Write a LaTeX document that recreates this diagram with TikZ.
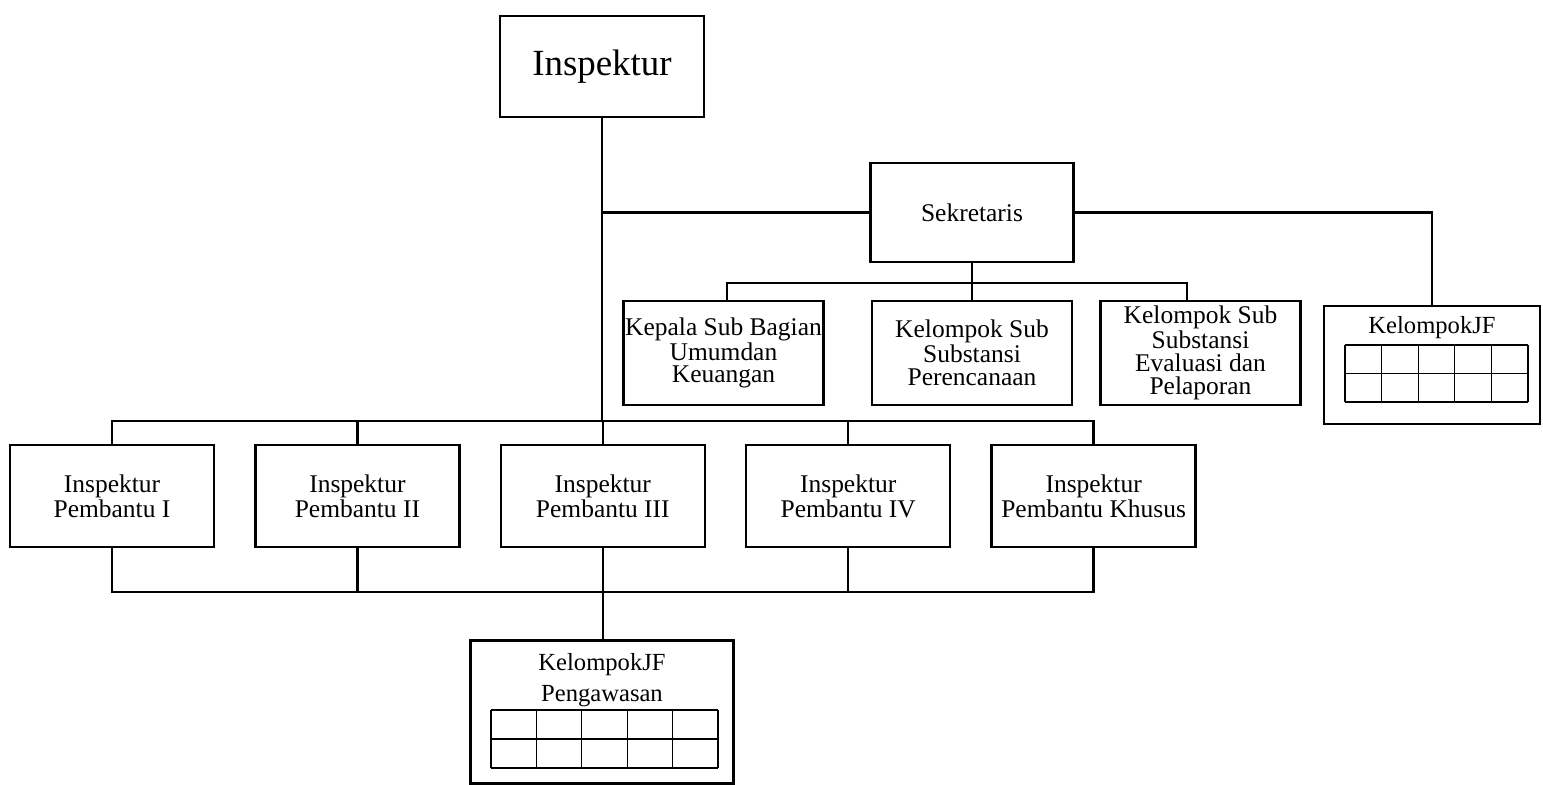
\documentclass[tikz,border=0pt]{standalone}
\usepackage{fontspec}
\setmainfont{Liberation Serif}
\usetikzlibrary{positioning}

\begin{document}
\begin{tikzpicture}[x=0.02cm,y=-0.02cm,
  box/.style={draw,line width=1.4pt,align=center,inner sep=1pt,minimum width=4.08cm,minimum height=2.04cm,font=\fontsize{14.5}{13}\selectfont},
  sub/.style={box,minimum width=4.0cm,minimum height=2.08cm},
  jfbox/.style={draw,line width=1.4pt,inner sep=0pt},
  jftitle/.style={align=center,font=\fontsize{14}{17.6}\selectfont},
  line/.style={line width=1.4pt},
  cell/.style={line width=0.7pt},
  node distance=0.78cm]
  \useasboundingbox (0,0) rectangle (1543,785);
  % top
  \node[box,font=\fontsize{21}{24}\selectfont,minimum height=2.02cm] (ins) at (602,66.5) {Inspektur};
  \node[box,minimum width=4.06cm,minimum height=1.98cm] (sek) at (972,212.5) {Sekretaris};
  \node[sub] (kep) at (723.5,353) {Kepala Sub Bagian\\Umumdan\\Keuangan};
  \node[sub] (per) at (972,353) {Kelompok Sub\\Substansi\\Perencanaan};
  \node[sub] (eva) at (1200.5,353) {Kelompok Sub\\Substansi\\Evaluasi dan\\Pelaporan};
  \node[jfbox,minimum width=4.32cm,minimum height=2.36cm] (jf) at (1432,365) {};
  \node[jftitle] (jft) at (1432,328) {KelompokJF};
  % inspektur pembantu
  \node[box] (ip1) at (112,496) {Inspektur\\Pembantu I};
  \node[box,right=of ip1] (ip2) {Inspektur\\Pembantu II};
  \node[box,right=of ip2] (ip3) {Inspektur\\Pembantu III};
  \node[box,right=of ip3] (ip4) {Inspektur\\Pembantu IV};
  \node[box,right=of ip4] (ip5) {Inspektur\\Pembantu Khusus};
  \node[jfbox,minimum width=5.26cm,minimum height=2.86cm] (pjf) at (602,712) {};
  \node[jftitle] (pjft) at (602,680) {KelompokJF\\Pengawasan};
  % bus lines
  \coordinate (topbus) at (0,421);
  \coordinate (botbus) at (0,592);
  \coordinate (subL) at (727,283);
  \coordinate (subR) at (1187,283);
  \draw[line] (ins.south) -- (ins.south |- topbus);
  \draw[line] (sek.west) -- (sek.west -| ins.south);
  \draw[line] (sek.east) -| (jf.north);
  \draw[line] (sek.south) -- (per.north);
  \draw[line] (kep.north -| subL) -- (subL) -- (subR) -- (eva.north -| subR);
  \draw[line] (ip1.north) -- (ip1.north |- topbus) -- (ip5.north |- topbus) -- (ip5.north);
  \draw[line] (ip1.south) -- (ip1.south |- botbus) -- (ip5.south |- botbus) -- (ip5.south);
  \foreach \n in {ip2,ip3,ip4} {
    \draw[line] (\n.north) -- (\n.north |- topbus);
    \draw[line] (\n.south) -- (\n.south |- botbus);
  }
  \draw[line] (ip3.south |- botbus) -- (ip3.south |- pjf.north);
  % tables
  \foreach \i in {0,...,5}
    \draw[cell] ({1345+36.6*\i},345) -- ({1345+36.6*\i},402);
  \foreach \j in {345,373.5,402}
    \draw[cell] (1345,\j) -- (1528,\j);
  \foreach \i in {0,...,5}
    \draw[cell] ({491+45.4*\i},710) -- ({491+45.4*\i},768);
  \foreach \j in {710,739,768}
    \draw[cell] (491,\j) -- (718,\j);
\end{tikzpicture}
\end{document}
